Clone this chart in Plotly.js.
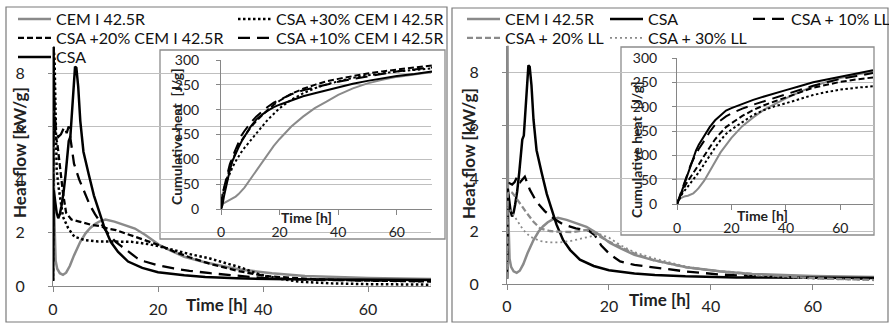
<!DOCTYPE html>
<html>
<head>
<meta charset="utf-8">
<script src="https://cdn.plot.ly/plotly-3.0.1.min.js"></script>
<style>html,body{margin:0;padding:0;background:#fff;}#chart{width:889px;height:323px;}</style>
</head>
<body>
<div id="chart"></div>
<script>
// ---------------- DATA ----------------
// Heat flow [kW/g] vs time [h]  (main plots)
const cemT = [0, 0.1, 0.2, 0.35, 0.5, 0.8, 1.3, 1.9, 2.5, 3.2, 4, 5.2, 6.2, 7.1, 8, 8.8, 10, 11.7, 13.7, 15.6, 17.6, 20.2, 22.2, 25, 28.7, 32, 35.2, 41.7, 48, 60, 72];
const cemQ = [0.2, 9.0, 3.0, 1.4, 0.95, 0.65, 0.48, 0.42, 0.5, 0.75, 1.15, 1.66, 1.98, 2.18, 2.33, 2.42, 2.5, 2.42, 2.3, 2.16, 1.92, 1.55, 1.35, 1.1, 0.9, 0.75, 0.63, 0.48, 0.38, 0.3, 0.26];

const csaT = [0, 0.15, 0.4, 0.7, 1.0, 1.3, 1.6, 2.0, 2.4, 2.8, 3.0, 3.3, 3.6, 3.9, 4.2, 4.45, 4.8, 5.2, 5.8, 6.8, 7.8, 8.8, 9.7, 11, 12.4, 14.3, 17, 20, 22, 25, 29, 35, 45, 60, 72];
const csaQ = [0.2, 3.6, 3.2, 2.75, 2.55, 2.7, 3.0, 3.5, 4.2, 5.1, 5.45, 5.6, 6.5, 7.6, 8.25, 8.2, 7.5, 6.2, 5.05, 4.2, 3.4, 2.8, 2.25, 1.66, 1.28, 0.92, 0.68, 0.52, 0.47, 0.4, 0.34, 0.29, 0.25, 0.23, 0.23];

const c30T = [0, 0.1, 0.3, 0.5, 0.7, 1.0, 1.3, 1.9, 2.9, 4.1, 6, 8.6, 11.7, 14.9, 18, 20, 23, 26, 29.6, 33, 36, 39.5, 43, 47, 53, 60, 72];
const c30Q = [0.2, 9.0, 8.5, 6.5, 4.4, 3.8, 3.36, 2.6, 2.17, 1.85, 1.73, 1.67, 1.67, 1.66, 1.58, 1.5, 1.35, 1.2, 1.05, 0.85, 0.68, 0.42, 0.28, 0.16, 0.1, 0.07, 0.05];

const c20T = [0, 0.1, 0.3, 0.5, 0.8, 1.3, 1.9, 2.5, 3.5, 5, 7.3, 9, 10.5, 12, 13.7, 15.2, 16.8, 18.5, 20, 23, 26, 30.5, 35.6, 40.6, 50, 60, 72];
const c20Q = [0.2, 9.0, 6.2, 5.6, 5.4, 4.5, 3.5, 2.75, 2.5, 2.42, 2.3, 2.25, 2.15, 2.1, 1.98, 1.9, 1.78, 1.66, 1.55, 1.3, 1.08, 0.8, 0.55, 0.37, 0.25, 0.2, 0.17];

const c10T = [0, 0.1, 0.3, 0.6, 1.0, 1.5, 2.2, 2.6, 3.0, 3.4, 4.0, 5.0, 6.0, 7.0, 8.0, 9.0, 10.0, 11.0, 12.0, 13.0, 14.0, 15.0, 16.0, 17.5, 20, 23, 26, 30, 35, 40, 50, 60, 72];
const c10Q = [0.2, 9.0, 6.5, 5.8, 5.6, 5.7, 6.0, 5.75, 6.0, 5.5, 4.6, 4.0, 3.5, 3.05, 2.7, 2.38, 2.1, 1.85, 1.65, 1.5, 1.35, 1.2, 1.05, 0.92, 0.78, 0.66, 0.57, 0.48, 0.38, 0.3, 0.23, 0.2, 0.18];

const l10T = [0, 0.15, 0.5, 1.0, 1.5, 2.0, 2.6, 3.0, 3.5, 4.5, 5.8, 7.4, 9.3, 11, 13.5, 16, 17.2, 18.5, 20.2, 22.2, 25, 28.7, 35.2, 41.7, 50, 60, 72];
const l10Q = [0.2, 3.6, 3.8, 3.75, 3.85, 4.05, 3.85, 3.95, 4.05, 3.55, 3.1, 2.75, 2.45, 2.25, 2.1, 2.02, 1.85, 1.45, 1.12, 0.85, 0.72, 0.63, 0.47, 0.36, 0.28, 0.23, 0.2];

const l20T = [0, 0.15, 0.5, 1.0, 1.6, 2.5, 3.9, 5.2, 6.5, 8.4, 10.4, 13, 15.6, 16.9, 18.2, 20, 22.2, 25, 28.7, 32, 35.2, 41.7, 48, 60, 72];
const l20Q = [0.2, 3.4, 3.5, 3.45, 3.3, 3.04, 2.67, 2.35, 2.1, 2.0, 1.97, 1.96, 2.04, 1.97, 1.79, 1.6, 1.4, 1.15, 0.9, 0.75, 0.63, 0.48, 0.38, 0.22, 0.15];

const l30T = [0, 0.15, 0.6, 1.9, 3.2, 4.5, 6.5, 8.4, 10.4, 12.4, 14.3, 16.3, 18.2, 20, 22.2, 25, 28.7, 32, 35.2, 41.7, 48, 60, 72];
const l30Q = [0.2, 2.9, 2.8, 2.4, 2.04, 1.79, 1.62, 1.57, 1.57, 1.62, 1.69, 1.79, 1.88, 1.75, 1.47, 1.2, 0.97, 0.8, 0.65, 0.47, 0.34, 0.2, 0.15];

// Cumulative heat [J/g] (insets)
const cumT = [0, 0.5, 1, 2, 3, 4, 5, 6, 7, 8, 10, 12, 14, 16, 18, 20, 24, 28, 32, 36, 40, 45, 50, 55, 60, 66, 72];
// left inset
const cumCemL = [0, 10, 12, 15, 18, 21, 25, 30, 36, 43, 60, 77, 95, 112, 127, 141, 166, 186, 203, 216, 230, 243, 253, 260, 266, 271, 276];
const cumCsaL = [0, 8, 25, 52, 78, 98, 112, 124, 136, 146, 165, 180, 190, 198, 205, 210, 219, 227, 233, 239, 245, 252, 258, 263, 268, 272, 277];
const cumC10 = [0, 30, 42, 68, 90, 106, 120, 135, 148, 157, 173, 186, 197, 206, 214, 220, 231, 239, 245, 251, 256, 262, 267, 272, 277, 281, 285];
const cumC20 = [0, 30, 40, 62, 82, 100, 115, 127, 138, 147, 163, 177, 189, 200, 210, 218, 232, 242, 250, 257, 262, 268, 273, 277, 281, 285, 289];
const cumC30 = [0, 25, 38, 57, 72, 85, 96, 106, 115, 123, 138, 152, 166, 180, 192, 203, 220, 233, 243, 251, 257, 264, 269, 273, 277, 280, 283];
// right inset
const cumCemR = [0, 8, 11, 14, 16, 17, 19, 22, 27, 33, 48, 68, 88, 106, 121, 136, 160, 178, 194, 206, 217, 230, 242, 251, 259, 266, 272];
const cumCsaR = [0, 6, 14, 30, 46, 63, 80, 96, 110, 122, 141, 158, 172, 182, 192, 197, 206, 214, 221, 228, 234, 242, 250, 256, 262, 269, 275];
const cumL10 = [0, 8, 15, 35, 50, 66, 80, 92, 103, 113, 130, 148, 163, 172, 180, 186, 196, 204, 211, 219, 226, 235, 243, 250, 257, 263, 269];
const cumL20 = [0, 7, 13, 28, 38, 47, 55, 63, 72, 81, 99, 117, 133, 146, 158, 166, 181, 193, 203, 211, 219, 229, 239, 245, 251, 256, 260];
const cumL30 = [0, 6, 11, 22, 29, 36, 42, 49, 57, 65, 82, 100, 116, 131, 144, 153, 168, 183, 193, 201, 207, 216, 224, 230, 235, 239, 242];

const namesL = ['CEM I 42.5R', 'CSA +30% CEM I 42.5R', 'CSA +20% CEM I 42.5R', 'CSA +10% CEM I 42.5R', 'CSA'];
const namesR = ['CEM I 42.5R', 'CSA', 'CSA + 10% LL', 'CSA + 20% LL', 'CSA + 30% LL'];
const xTicks = [0, 20, 40, 60];

// ---------------- STYLE / LAYOUT ----------------
const W = 889, H = 323;
const px = v => v / W, py = v => 1 - v / H;
const GRAY = '#8a8a8a', BLACK = '#000000';
const DOT = '2.5px,2.5px', SDASH = '6px,3px', LDASH = '12px,7px';

function tr(x, y, name, color, dash, width, xa, ya, legend, show) {
  return {x: x, y: y, name: name, type: 'scatter', mode: 'lines',
    line: {color: color, dash: dash, width: width}, xaxis: xa, yaxis: ya,
    legend: legend, showlegend: show, hoverinfo: 'skip'};
}

const data = [
  // left main
  tr(cemT, cemQ, namesL[0], GRAY, 'solid', 2.5, 'x', 'y', 'legend', true),
  tr(c30T, c30Q, namesL[1], BLACK, DOT, 2.5, 'x', 'y', 'legend', true),
  tr(c20T, c20Q, namesL[2], BLACK, SDASH, 2.3, 'x', 'y', 'legend2', true),
  tr(c10T, c10Q, namesL[3], BLACK, LDASH, 2.3, 'x', 'y', 'legend2', true),
  tr(csaT, csaQ, namesL[4], BLACK, 'solid', 2.5, 'x', 'y', 'legend3', true),
  // left inset
  tr(cumT, cumCemL, namesL[0], GRAY, 'solid', 2, 'x2', 'y2', 'legend', false),
  tr(cumT, cumC30, namesL[1], BLACK, DOT, 2, 'x2', 'y2', 'legend', false),
  tr(cumT, cumC20, namesL[2], BLACK, SDASH, 2, 'x2', 'y2', 'legend', false),
  tr(cumT, cumC10, namesL[3], BLACK, LDASH, 2, 'x2', 'y2', 'legend', false),
  tr(cumT, cumCsaL, namesL[4], BLACK, 'solid', 2, 'x2', 'y2', 'legend', false),
  // right main
  tr(cemT, cemQ, namesR[0], GRAY, 'solid', 2.5, 'x3', 'y3', 'legend4', true),
  tr(csaT, csaQ, namesR[1], BLACK, 'solid', 2.5, 'x3', 'y3', 'legend4', true),
  tr(l10T, l10Q, namesR[2], BLACK, LDASH, 2.3, 'x3', 'y3', 'legend4', true),
  tr(l20T, l20Q, namesR[3], GRAY, SDASH, 2.3, 'x3', 'y3', 'legend5', true),
  tr(l30T, l30Q, namesR[4], GRAY, '2px,3px', 1.8, 'x3', 'y3', 'legend5', true),
  // right inset
  tr(cumT, cumCemR, namesR[0], GRAY, 'solid', 2, 'x4', 'y4', 'legend4', false),
  tr(cumT, cumL30, namesR[4], BLACK, DOT, 2, 'x4', 'y4', 'legend4', false),
  tr(cumT, cumL20, namesR[3], BLACK, SDASH, 2, 'x4', 'y4', 'legend4', false),
  tr(cumT, cumL10, namesR[2], BLACK, LDASH, 2, 'x4', 'y4', 'legend4', false),
  tr(cumT, cumCsaR, namesR[1], BLACK, 'solid', 2, 'x4', 'y4', 'legend4', false)
];

const FONT = 'Lato, "Open Sans", sans-serif';
const AXC = '#868686', GRID = '#bfbfbf', TXT = '#222222';

function xax(d, anchor, fs, standoff) {
  return {domain: d, anchor: anchor, range: [0, 72], tickmode: 'array', tickvals: xTicks,
    showgrid: false, zeroline: false, showline: true, linecolor: AXC, linewidth: 1,
    ticks: 'outside', ticklen: 5, tickcolor: AXC, tickfont: {family: FONT, size: fs, color: TXT},
    ticklabelstandoff: standoff, fixedrange: true, automargin: false};
}
function yax(d, anchor, r, dt, fs, standoff) {
  return {domain: d, anchor: anchor, range: r, dtick: dt, tick0: 0,
    showgrid: true, gridcolor: GRID, gridwidth: 1, zeroline: false, showline: true, linecolor: AXC, linewidth: 1,
    ticks: 'outside', ticklen: 4, tickcolor: AXC, tickfont: {family: FONT, size: fs, color: TXT},
    ticklabelstandoff: standoff, fixedrange: true, automargin: false};
}

function legendRow(xp, yp, ew) {
  return {orientation: 'h', x: px(xp), y: py(yp), xanchor: 'left', yanchor: 'middle',
    entrywidth: ew, entrywidthmode: 'pixels', itemwidth: 33, traceorder: 'normal',
    font: {family: FONT, size: 16, color: '#111111'}, bgcolor: 'rgba(0,0,0,0)', borderwidth: 0};
}

function ann(text, x, y, fs, angle) {
  return {text: '<b>' + text + '</b>', x: px(x), y: py(y), xref: 'paper', yref: 'paper',
    showarrow: false, textangle: angle || 0, xanchor: 'center', yanchor: 'middle',
    font: {family: FONT, size: fs, color: TXT}};
}

// inset box helper (pixel box -> axis-domain fractions)
function box(xa, ya, dx0, dx1, dy0, dy1, X0, X1, Y0, Y1) {
  return {type: 'rect', layer: 'below', xref: xa + ' domain', yref: ya + ' domain',
    x0: (X0 - dx0) / (dx1 - dx0), x1: (X1 - dx0) / (dx1 - dx0),
    y0: (dy0 - Y1) / (dy0 - dy1), y1: (dy0 - Y0) / (dy0 - dy1),
    fillcolor: '#ffffff', line: {color: '#8c8c8c', width: 1.3}};
}

const layout = {
  width: W, height: H, margin: {l: 0, r: 0, t: 0, b: 0, pad: 0, autoexpand: false},
  paper_bgcolor: '#ffffff', plot_bgcolor: 'rgba(0,0,0,0)',
  font: {family: FONT, color: TXT},
  showlegend: true, hovermode: false,
  xaxis: xax([px(53), px(431)], 'y', 16, 4),
  yaxis: yax([py(286), py(46.6)], 'x', [0, 9], 2, 16, 20),
  xaxis2: xax([px(221), px(432)], 'y2', 14, 5),
  yaxis2: yax([py(209), py(60)], 'x2', [0, 300], 50, 14, 14),
  xaxis3: xax([px(507), px(874)], 'y3', 16, 3),
  yaxis3: yax([py(284), py(45.5)], 'x3', [0, 9], 2, 16, 20),
  xaxis4: xax([px(677), px(873)], 'y4', 14, 6),
  yaxis4: yax([py(204), py(58)], 'x4', [0, 300], 50, 14, 12),
  legend: legendRow(13, 19, 172),
  legend2: legendRow(13, 38, 172),
  legend3: legendRow(13, 57, 172),
  legend4: legendRow(462, 19, 95),
  legend5: legendRow(462, 38, 95),
  shapes: [
    box('x2', 'y2', 221, 432, 209, 60, 160, 445, 50, 239),
    box('x4', 'y4', 677, 873, 204, 58, 621, 874, 47, 235),
    {type: 'rect', xref: 'paper', yref: 'paper', layer: 'above', x0: px(6), x1: px(447), y0: py(322), y1: py(7), line: {color: '#7a7a7a', width: 1.2}},
    {type: 'rect', xref: 'paper', yref: 'paper', layer: 'above', x0: px(452), x1: px(888), y0: py(322), y1: py(8), line: {color: '#7a7a7a', width: 1.2}}
  ],
  annotations: [
    ann('Time [h]', 217, 304, 17),
    ann('Heat flow [kW/g]', 20, 153, 17, -90),
    ann('Time [h]', 660, 299, 17),
    ann('Heat flow [kW/g]', 469, 153, 17, -90),
    ann('Time [h]', 306, 217, 14),
    ann('Cumulative heat  [J/g]', 176, 137, 14, -90),
    ann('Time [h]', 762, 216, 14),
    ann('Cumulative heat  [J/g]', 636, 150, 14, -90)
  ]
};

Plotly.newPlot('chart', data, layout, {staticPlot: true, displayModeBar: false});
</script>
</body>
</html>
